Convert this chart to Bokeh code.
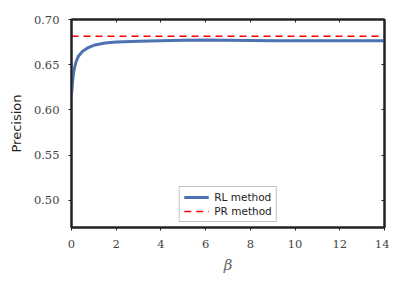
from bokeh.plotting import figure
from bokeh.models import LinearAxis, Range1d, FixedTicker, Legend, LegendItem, CustomJSTickFormatter
from bokeh.embed import file_html
from bokeh.resources import INLINE

beta = [0, 0.05, 0.1, 0.2, 0.3, 0.5, 0.75, 1, 1.5, 2, 3, 4, 5, 6, 7, 8, 9, 10, 11, 12, 13, 14]
rl_precision = [0.617, 0.632, 0.643, 0.653, 0.659, 0.665, 0.669, 0.6715, 0.674, 0.675, 0.676,
                0.6765, 0.677, 0.6772, 0.677, 0.6768, 0.6766, 0.6766, 0.6766, 0.6766, 0.6766, 0.6766]
pr_beta = [0, 14]
pr_precision = [0.6815, 0.6815]
x_ticks = [0, 2, 4, 6, 8, 10, 12, 14]
y_ticks = [0.50, 0.55, 0.60, 0.65, 0.70]

p = figure(width=389, height=276, output_backend="svg", toolbar_location=None,
           x_range=Range1d(0, 14), y_range=Range1d(0.47, 0.70),
           min_border_left=71, min_border_right=5, min_border_top=19, min_border_bottom=44)
p.xgrid.visible = False
p.ygrid.visible = False
p.outline_line_color = "#222222"
p.outline_line_width = 2
p.background_fill_color = "white"
p.border_fill_color = "white"

r1 = p.line(beta, rl_precision, line_color="#4C72B0", line_width=3)
r2 = p.line(pr_beta, pr_precision, line_color="#FF0000", line_width=1.5, line_dash="7 5")

p.xaxis.ticker = FixedTicker(ticks=x_ticks)
p.yaxis.ticker = FixedTicker(ticks=y_ticks)
p.yaxis.formatter = CustomJSTickFormatter(code="return tick.toFixed(2);")
for axes in (p.xaxis, p.yaxis):
    axes.axis_line_color = "#222222"
    axes.axis_line_width = 2
    axes.major_tick_line_color = "#222222"
    axes.major_tick_out = 3
    axes.major_tick_in = 0
    axes.minor_tick_line_color = None
    axes.major_label_text_font = "DejaVu Serif"
    axes.major_label_text_font_size = "11.5px"
    axes.major_label_text_color = "#444444"
    axes.major_label_standoff = 9

p.xaxis.axis_label = "β"
p.xaxis.axis_label_text_font = "DejaVu Serif"
p.xaxis.axis_label_text_font_style = "italic"
p.xaxis.axis_label_text_font_size = "15px"
p.xaxis.axis_label_text_color = "#666666"
p.xaxis.axis_label_standoff = 5

p.yaxis.axis_label = "Precision"
p.yaxis.axis_label_text_font = "DejaVu Sans"
p.yaxis.axis_label_text_font_style = "normal"
p.yaxis.axis_label_text_font_size = "13px"
p.yaxis.axis_label_text_color = "#222222"
p.yaxis.axis_label_standoff = 7

top = LinearAxis(ticker=FixedTicker(ticks=x_ticks), formatter=CustomJSTickFormatter(code="return '';"),
                 axis_line_color="#222222", axis_line_width=2, major_tick_in=3, major_tick_out=0,
                 major_tick_line_color="#222222", minor_tick_line_color=None, major_label_standoff=0)
right = LinearAxis(ticker=FixedTicker(ticks=y_ticks), formatter=CustomJSTickFormatter(code="return '';"),
                   axis_line_color="#222222", axis_line_width=2, major_tick_in=3, major_tick_out=0,
                   major_tick_line_color="#222222", minor_tick_line_color=None, major_label_standoff=0)
p.add_layout(top, "above")
p.add_layout(right, "right")

legend = Legend(items=[LegendItem(label="RL method", renderers=[r1]),
                       LegendItem(label="PR method", renderers=[r2])],
                location="bottom_center")
legend.label_text_font = "DejaVu Sans"
legend.label_text_font_size = "10.5px"
legend.label_text_color = "#222222"
legend.border_line_color = "#888888"
legend.border_line_width = 1
legend.glyph_width = 25
legend.glyph_height = 12
legend.label_height = 12
legend.spacing = 2
legend.padding = 4
legend.margin = 5
legend.label_standoff = 6
p.add_layout(legend, "center")

open("out.html", "w").write(file_html(p, INLINE))
